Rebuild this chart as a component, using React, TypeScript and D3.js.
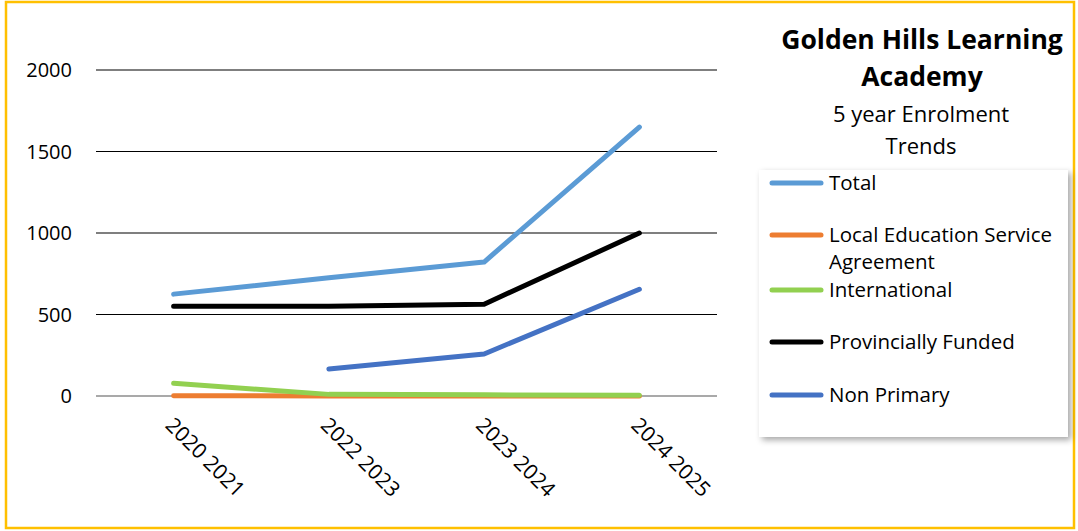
import React from "react";
import * as d3 from "d3";

const categories = ["2020 2021", "2022 2023", "2023 2024", "2024 2025"];
const totalValues = [625, 725, 822, 1650];
const lesaValues = [2, 0, 0, 0];
const internationalValues = [78, 10, 7, 4];
const provincialValues = [550, 550, 563, 1000];
const nonPrimaryValues: (number | null)[] = [null, 166, 258, 655];
const yTicks = [0, 500, 1000, 1500, 2000];

const series = [
  { name: "Total", values: totalValues, color: "#5B9BD5" },
  { name: "Local Education Service Agreement", values: lesaValues, color: "#ED7D31" },
  { name: "International", values: internationalValues, color: "#92D050" },
  { name: "Provincially Funded", values: provincialValues, color: "#000000" },
  { name: "Non Primary", values: nonPrimaryValues, color: "#4472C4" },
];

const W = 1078, H = 531;
const left = 96, right = 717, top = 70, bottom = 396;
const FONT = "'Open Sans', Lato, sans-serif";

export default function App() {
  const x = d3.scaleBand<string>().domain(categories).range([left, right]);
  const y = d3.scaleLinear().domain([0, 2000]).range([bottom, top]);
  const cx = (c: string) => (x(c) as number) + x.bandwidth() / 2;
  const line = d3
    .line<number | null>()
    .defined((d) => d !== null)
    .x((_, i) => cx(categories[i]))
    .y((d) => y(d as number));

  const legendX = 759, legendY = 170, legendW = 309, legendH = 267;
  const rowY = [183, 235, 290, 342, 395];

  return (
    <svg width={W} height={H} style={{ position: "absolute", left: 0, top: 0, background: "#fff" }} fontFamily={FONT}>
      <defs>
        <filter id="sh" x="-10%" y="-10%" width="130%" height="130%">
          <feDropShadow dx="3" dy="3" stdDeviation="3" floodColor="#000" floodOpacity="0.35" />
        </filter>
      </defs>
      <rect x={6} y={2} width={1068} height={526} fill="#fff" stroke="#FFC000" strokeWidth={2.5} />
      {yTicks.map((t) => (
        <g key={t}>
          <line x1={left} x2={right} y1={y(t)} y2={y(t)} stroke={t === 0 ? "#555" : "#000"} strokeWidth={1.2} />
          <text x={72} y={y(t)} dy="0.35em" textAnchor="end" fontSize={20} fill="#000">{t}</text>
        </g>
      ))}
      {categories.map((c) => (
        <text key={c} x={cx(c) + 1} y={416} fontSize={21} fill="#000" transform={`rotate(45, ${cx(c) + 1}, 416)`} dy="0.7em">
          {c}
        </text>
      ))}
      {series.map((s) => (
        <path key={s.name} d={line(s.values as (number | null)[]) || ""} fill="none" stroke={s.color} strokeWidth={5} strokeLinecap="round" strokeLinejoin="round" />
      ))}
      <text x={922} y={40} dy="0.35em" textAnchor="middle" fontSize={26.5} fontWeight="bold">Golden Hills Learning</text>
      <text x={922} y={77} dy="0.35em" textAnchor="middle" fontSize={26.5} fontWeight="bold">Academy</text>
      <text x={921} y={114} dy="0.35em" textAnchor="middle" fontSize={22}>5 year Enrolment</text>
      <text x={921} y={146} dy="0.35em" textAnchor="middle" fontSize={22}>Trends</text>
      <rect x={legendX} y={legendY} width={legendW} height={legendH} fill="#fff" filter="url(#sh)" />
      {series.map((s, i) => (
        <g key={s.name}>
          <line x1={772} x2={821} y1={rowY[i]} y2={rowY[i]} stroke={s.color} strokeWidth={5} strokeLinecap="round" />
          {s.name === "Local Education Service Agreement" ? (
            <>
              <text x={829} y={rowY[i]} dy="0.35em" fontSize={20.5}>Local Education Service</text>
              <text x={829} y={rowY[i] + 27} dy="0.35em" fontSize={20.5}>Agreement</text>
            </>
          ) : (
            <text x={829} y={rowY[i]} dy="0.35em" fontSize={20.5}>{s.name}</text>
          )}
        </g>
      ))}
    </svg>
  );
}
